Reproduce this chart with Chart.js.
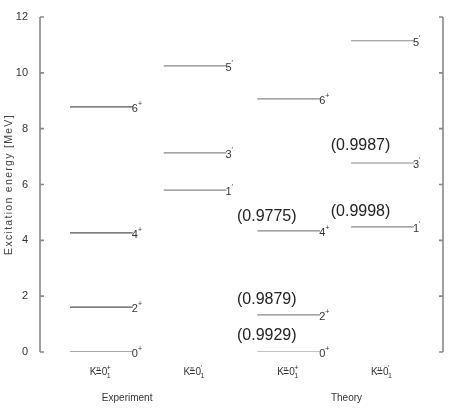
<!DOCTYPE html>
<html>
<head>
<meta charset="utf-8">
<script src="https://cdn.jsdelivr.net/npm/chart.js@4.4.1/dist/chart.umd.min.js"></script>
<style>
  html, body { margin: 0; padding: 0; background: #fff; }
  #wrap { width: 452px; height: 410px; }
</style>
</head>
<body>
<div id="wrap"><canvas id="levels"></canvas></div>
<script>
// Columns (bands) of the level scheme
const bands = ['0+', '0-', '0+', '0-'];
const groups = ['Experiment', 'Theory'];

// Level energies (MeV) and spins for each band
const expPlusE = [0, 1.61, 4.27, 8.78];
const expPlusJ = ['0', '2', '4', '6'];
const expMinusE = [5.80, 7.13, 10.25];
const expMinusJ = ['1', '3', '5'];
const thPlusE = [0, 1.33, 4.34, 9.07];
const thPlusJ = ['0', '2', '4', '6'];
const thMinusE = [4.48, 6.77, 11.15];
const thMinusJ = ['1', '3', '5'];

// Overlap values written next to theory levels
const overlapText = ['(0.9929)', '(0.9879)', '(0.9775)', '(0.9987)', '(0.9998)'];
const overlapBand = [2, 2, 2, 3, 3];
const overlapE = [0.57, 1.86, 4.84, 7.38, 5.02];

const yTicks = [0, 2, 4, 6, 8, 10, 12];
const yTitle = 'Excitation energy [MeV]';

const bandE = [expPlusE, expMinusE, thPlusE, thMinusE];
const bandJ = [expPlusJ, expMinusJ, thPlusJ, thMinusJ];

// one short horizontal dataset per level
const datasets = [];
bandE.forEach(function(list, b) {
    list.forEach(function(e, i) {
        datasets.push({
            data: [{x: b + 0.32, y: e}, {x: b + 0.99, y: e}],
            borderColor: b === 0 ? '#555' : '#888',
            borderWidth: 1.2,
            pointRadius: 0,
            band: b,
            spin: bandJ[b][i],
            parity: bands[b].charAt(1)
        });
    });
});

const FONT = '"Liberation Sans Narrow", "Liberation Sans", Arial, sans-serif';

// draws axes, spin labels, band labels and overlaps
const decor = {
    id: 'decor',
    afterDraw: function(chart) {
        const c = chart.ctx;
        const xs = chart.scales.x, ys = chart.scales.y;
        const a = chart.chartArea;
        c.save();

        // axes with inward ticks
        c.strokeStyle = '#888';
        c.lineWidth = 1.6;
        c.beginPath();
        c.moveTo(a.left, a.top); c.lineTo(a.left, a.bottom);
        c.moveTo(a.right, a.top); c.lineTo(a.right, a.bottom);
        yTicks.forEach(function(t) {
            const y = ys.getPixelForValue(t);
            c.moveTo(a.left, y); c.lineTo(a.left + 4, y);
            c.moveTo(a.right, y); c.lineTo(a.right - 4, y);
        });
        c.stroke();

        // y title, spaced out
        c.save();
        c.translate(9, (a.top + a.bottom) / 2);
        c.rotate(-Math.PI / 2);
        c.fillStyle = '#444';
        c.font = '10.5px "Liberation Sans", Arial, sans-serif';
        c.letterSpacing = '1.3px';
        c.textAlign = 'center';
        c.textBaseline = 'middle';
        c.fillText(yTitle, 0, 0);
        c.restore();

        // spin labels at line ends
        c.fillStyle = '#333';
        c.textBaseline = 'middle';
        chart.data.datasets.forEach(function(ds) {
            const x = xs.getPixelForValue(ds.data[1].x);
            const y = ys.getPixelForValue(ds.data[1].y);
            c.font = '11px ' + FONT;
            c.textAlign = 'left';
            c.fillText(ds.spin, x - 1, y + 2);
            const w = c.measureText(ds.spin).width;
            c.font = '7px ' + FONT;
            c.fillText(ds.parity === '+' ? '+' : '\u2032', x - 1 + w, y - 3);
        });

        // band labels K^pi = 0_1^(+/-)
        const labY = a.bottom + 20;
        bands.forEach(function(bd, b) {
            const cx = xs.getPixelForValue(b + 0.66);
            c.font = '10px ' + FONT;
            c.textAlign = 'left';
            const x0 = cx - 12;
            c.fillText('K', x0, labY);
            c.font = '6px ' + FONT;
            c.fillText('\u03c0', x0 + 6.5, labY - 4);
            c.font = '10px ' + FONT;
            c.fillText('=', x0 + 6, labY + 1);
            c.fillText('0', x0 + 12, labY);
            c.font = '7px ' + FONT;
            c.fillText('1', x0 + 17, labY + 4);
            c.fillText(bd.charAt(1) === '+' ? '+' : '\u2032', x0 + 17, labY - 4);
        });

        // group labels
        c.font = '10px ' + FONT;
        c.textAlign = 'center';
        c.fillText(groups[0], xs.getPixelForValue(0.93), a.bottom + 46);
        c.fillText(groups[1], xs.getPixelForValue(3.27), a.bottom + 46);

        // overlap values
        c.font = '16px "Liberation Sans", Arial, sans-serif';
        c.fillStyle = '#222';
        overlapText.forEach(function(t, i) {
            c.fillText(t, xs.getPixelForValue(overlapBand[i] + 0.42), ys.getPixelForValue(overlapE[i]));
        });
        c.restore();
    }
};

new Chart(document.getElementById('levels'), {
    type: 'line',
    data: { datasets: datasets },
    options: {
        responsive: true,
        maintainAspectRatio: false,
        animation: false,
        layout: { padding: { top: 17, right: 9, bottom: 58, left: 0 } },
        plugins: { legend: { display: false }, tooltip: { enabled: false } },
        scales: {
            x: { type: 'linear', min: 0, max: 4.3, display: false },
            y: {
                min: 0, max: 12,
                afterFit: function(s) { s.width = 40; },
                border: { display: false },
                grid: { display: false },
                ticks: { stepSize: 2, color: '#333', padding: 4, font: { family: FONT, size: 11 } }
            }
        }
    },
    plugins: [decor]
});
</script>
</body>
</html>
